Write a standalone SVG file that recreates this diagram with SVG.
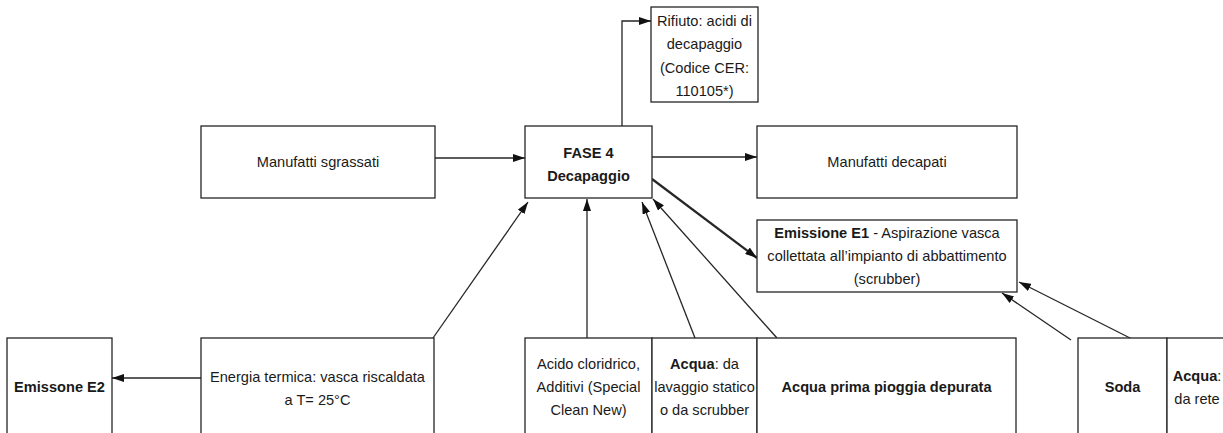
<svg xmlns="http://www.w3.org/2000/svg" width="1223" height="433" viewBox="0 0 1223 433">
  <style>
    .box { fill: #ffffff; stroke: #262626; stroke-width: 1.3; }
    .t { font-family: "Liberation Sans", Arial, sans-serif; font-size: 14.6px; fill: #1a1a1a; text-anchor: middle; }
    .b { font-weight: bold; }
    .link { fill: none; stroke: #262626; stroke-width: 1.3; marker-end: url(#arrow); }
    .thick { stroke-width: 2.2; }
  </style>
  <defs>
    <marker id="arrow" viewBox="0 0 12 8" refX="12" refY="4" markerWidth="12" markerHeight="8" markerUnits="userSpaceOnUse" orient="auto">
      <path d="M0,0 L12,4 L0,8 z" fill="#111111"/>
    </marker>
  </defs>
  <rect width="1223" height="433" fill="#ffffff"/>

  <g id="connectors">
    <path class="link" d="M435,158 L525,158"/>
    <path class="link" d="M652,157 L757,157"/>
    <path class="link" d="M622,126 L622,21 L651,21"/>
    <path class="link thick" d="M652,179 L757,258"/>
    <path class="link" d="M201,378 L112,378"/>
    <path class="link" d="M433,338 L528,202"/>
    <path class="link" d="M587,338 L587,199"/>
    <path class="link" d="M695,338 L642,202"/>
    <path class="link" d="M777,338 L653,199"/>
    <path class="link" d="M1071,340 L1002,293"/>
    <path class="link" d="M1132,339 L1019,282"/>
  </g>

  <g id="rifiuto">
    <rect class="box" x="651" y="7" width="107" height="95"/>
    <text class="t" x="704.5" y="26">Rifiuto: acidi di</text>
    <text class="t" x="704.5" y="49">decapaggio</text>
    <text class="t" x="704.5" y="73">(Codice CER:</text>
    <text class="t" x="704.5" y="96">110105*)</text>
  </g>

  <g id="manufatti-sgrassati">
    <rect class="box" x="201" y="126" width="234" height="72"/>
    <text class="t" x="318" y="167">Manufatti sgrassati</text>
  </g>

  <g id="fase4">
    <rect class="box" x="525" y="126" width="127" height="72"/>
    <text class="t b" x="588.5" y="158">FASE 4</text>
    <text class="t b" x="588.5" y="181">Decapaggio</text>
  </g>

  <g id="manufatti-decapati">
    <rect class="box" x="757" y="126" width="260" height="72"/>
    <text class="t" x="887" y="167">Manufatti decapati</text>
  </g>

  <g id="emissione-e1">
    <rect class="box" x="757" y="220" width="260" height="72"/>
    <text class="t" x="887" y="238"><tspan class="b">Emissione E1</tspan> - Aspirazione vasca</text>
    <text class="t" x="887" y="261">collettata all’impianto di abbattimento</text>
    <text class="t" x="887" y="284">(scrubber)</text>
  </g>

  <g id="emissione-e2">
    <rect class="box" x="7" y="338" width="105" height="110"/>
    <text class="t b" x="59.5" y="392">Emissone E2</text>
  </g>

  <g id="energia-termica">
    <rect class="box" x="201" y="338" width="233" height="110"/>
    <text class="t" x="317.5" y="382">Energia termica: vasca riscaldata</text>
    <text class="t" x="317.5" y="405">a T= 25°C</text>
  </g>

  <g id="acido">
    <rect class="box" x="525" y="338" width="127" height="110"/>
    <text class="t" x="588.5" y="369">Acido cloridrico,</text>
    <text class="t" x="588.5" y="392">Additivi (Special</text>
    <text class="t" x="588.5" y="415">Clean New)</text>
  </g>

  <g id="acqua-lavaggio">
    <rect class="box" x="652" y="338" width="105" height="110"/>
    <text class="t" x="704.5" y="369"><tspan class="b">Acqua</tspan>: da</text>
    <text class="t" x="704.5" y="392">lavaggio statico</text>
    <text class="t" x="704.5" y="415">o da scrubber</text>
  </g>

  <g id="acqua-prima-pioggia">
    <rect class="box" x="757" y="338" width="259" height="110"/>
    <text class="t b" x="886.5" y="392">Acqua prima pioggia depurata</text>
  </g>

  <g id="soda">
    <rect class="box" x="1078" y="338" width="89" height="110"/>
    <text class="t b" x="1122.5" y="392">Soda</text>
  </g>

  <g id="acqua-rete">
    <rect class="box" x="1167" y="338" width="70" height="110"/>
    <text class="t" x="1197" y="381"><tspan class="b">Acqua</tspan>:</text>
    <text class="t" x="1197" y="404">da rete</text>
  </g>
</svg>
